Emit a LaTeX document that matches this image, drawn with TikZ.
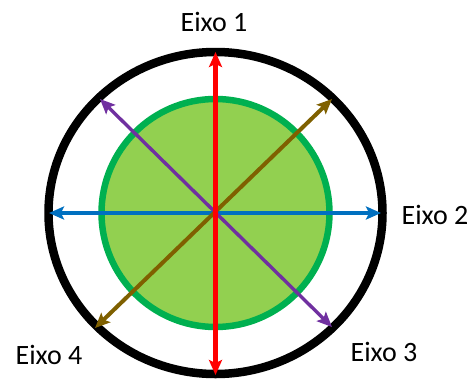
\documentclass[tikz,border=0pt]{standalone}
\usepackage{fontspec}
\setmainfont{Carlito}
\usetikzlibrary{arrows.meta}
\definecolor{ringgreen}{HTML}{00B050}
\definecolor{fillgreen}{HTML}{92D050}
\definecolor{axred}{HTML}{FF0000}
\definecolor{axblue}{HTML}{0070C0}
\definecolor{axpurple}{HTML}{7030A0}
\definecolor{axbrown}{HTML}{7F6000}
\begin{document}
\begin{tikzpicture}[x=1pt,y=-1pt,
  axis/.style={line width=4pt,{Stealth[length=15pt,width=13pt,inset=3pt]}-{Stealth[length=15pt,width=13pt,inset=3pt]}},
  lbl/.style={font=\fontsize{28}{32}\selectfont,inner sep=0pt}]
\useasboundingbox (0,0) rectangle (470,378);
\coordinate (c) at (215.5,213);
\draw[line width=8.5pt,black] (c) ellipse [x radius=167,y radius=161];
\draw[line width=6.5pt,ringgreen,fill=fillgreen] (c) circle [radius=114];
\coordinate (t) at (215.5,52);
\coordinate (b) at (215.5,375);
\coordinate (l) at (49,213);
\coordinate (r) at (381,213);
\coordinate (ul) at (100,99);
\coordinate (lr) at (332,327);
\coordinate (ur) at (332,99);
\coordinate (ll) at (95,328);
\draw[axis,axblue] (l) -- (r);
\draw[axis,axpurple,line width=3.4pt] (ul) -- (lr);
\draw[axis,axbrown] (ur) -- (ll);
\draw[axis,axred,line width=4.6pt] (t) -- (b);
\node[lbl] (e1) at (214,22) {Eixo 1};
\node[lbl] (e2) at (435,215) {Eixo 2};
\node[lbl] (e3) at (384,352) {Eixo 3};
\node[lbl] (e4) at (49,355) {Eixo 4};
\end{tikzpicture}
\end{document}
